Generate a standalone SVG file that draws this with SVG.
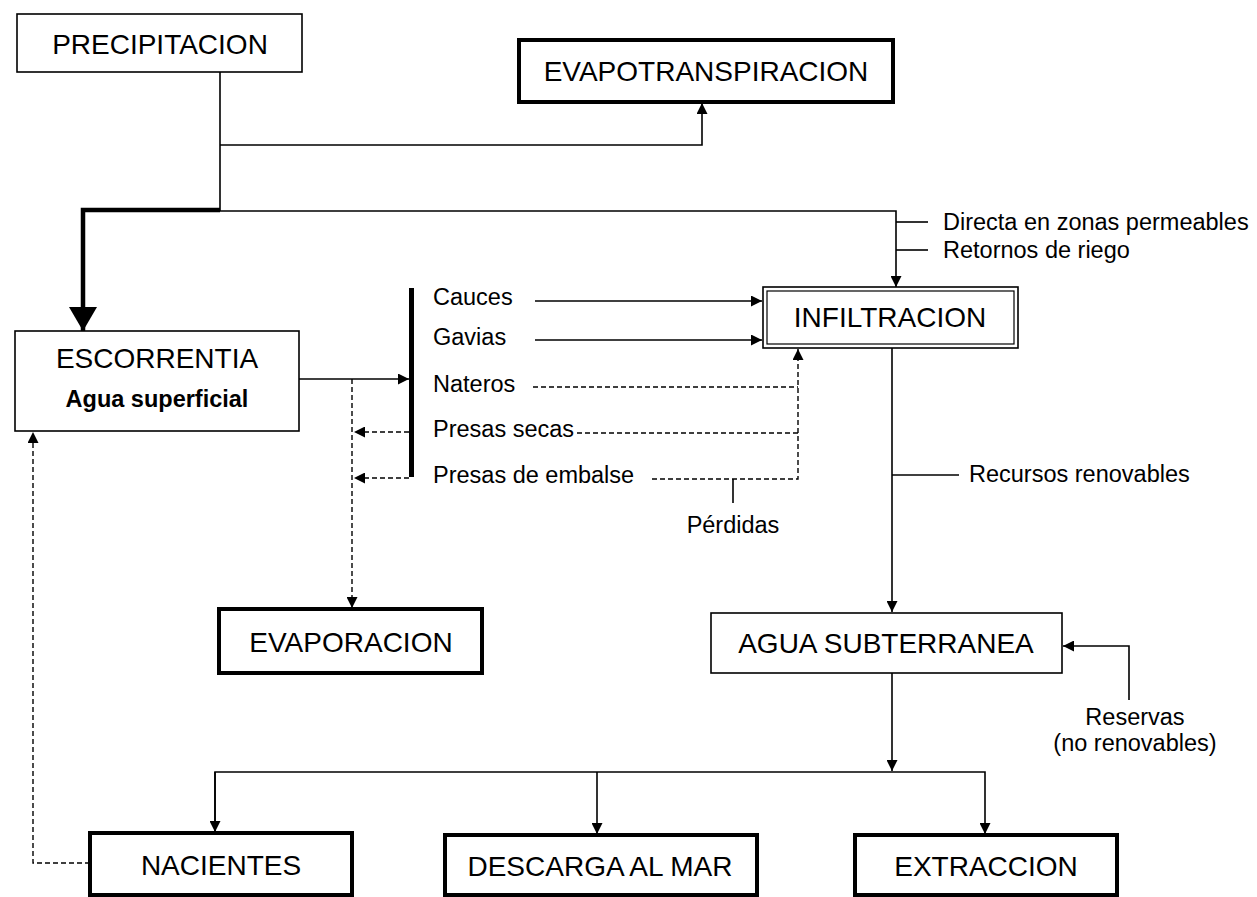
<svg xmlns="http://www.w3.org/2000/svg" width="1257" height="897" viewBox="0 0 1257 897">
<style>
.box{fill:#fff;stroke:#000;stroke-width:1.6}
.thick{fill:#fff;stroke:#000;stroke-width:4}
.ln{fill:none;stroke:#000;stroke-width:1.6}
.ds{fill:none;stroke:#000;stroke-width:1.4;stroke-dasharray:5 3}
.t{font-family:"Liberation Sans",Arial,sans-serif;font-size:28px;fill:#000;text-anchor:middle}
.l{font-family:"Liberation Sans",Arial,sans-serif;font-size:23.5px;fill:#000}
</style>
<defs>
<marker id="a" viewBox="0 0 10 10" refX="10" refY="5" markerWidth="11" markerHeight="11" markerUnits="userSpaceOnUse" orient="auto"><path d="M0,0 L10,5 L0,10 z" fill="#000"/></marker>
<marker id="big" viewBox="0 0 24 28" refX="24" refY="14" markerWidth="24" markerHeight="28" markerUnits="userSpaceOnUse" orient="auto"><path d="M0,0 L24,14 L0,28 z" fill="#000"/></marker>
</defs>
<g id="connectors">
<polyline class="ln" points="220,72 220,211 896,211 896,287" marker-end="url(#a)"/>
<polyline class="ln" points="220,145 702,145 702,103" marker-end="url(#a)"/>
<polyline fill="none" stroke="#000" stroke-width="4.5" points="220,210 83,210 83,331" marker-end="url(#big)"/>
<line class="ln" x1="896" y1="222" x2="928" y2="222"/>
<line class="ln" x1="896" y1="250" x2="928" y2="250"/>
<line class="ln" x1="299" y1="379" x2="409" y2="379" marker-end="url(#a)"/>
<rect x="409" y="288" width="5" height="189" fill="#000"/>
<polyline class="ds" points="352,379 352,608" marker-end="url(#a)"/>
<line class="ds" x1="409" y1="432" x2="354" y2="432" marker-end="url(#a)"/>
<line class="ds" x1="409" y1="478" x2="354" y2="478" marker-end="url(#a)"/>
<line class="ln" x1="535" y1="301" x2="762" y2="301" marker-end="url(#a)"/>
<line class="ln" x1="535" y1="340" x2="762" y2="340" marker-end="url(#a)"/>
<line class="ds" x1="533" y1="387" x2="798" y2="387"/>
<line class="ds" x1="577" y1="433" x2="798" y2="433"/>
<polyline class="ds" points="652,479 798,479 798,349" marker-end="url(#a)"/>
<line class="ln" x1="733" y1="479" x2="733" y2="503"/>
<line class="ln" x1="892" y1="348" x2="892" y2="612" marker-end="url(#a)"/>
<line class="ln" x1="892" y1="475" x2="959" y2="475"/>
<polyline class="ln" points="1129,700 1129,646 1063,646" marker-end="url(#a)"/>
<line class="ln" x1="892" y1="673" x2="892" y2="771" marker-end="url(#a)"/>
<polyline class="ln" points="215,832 215,772 985,772 985,834" marker-end="url(#a)"/>
<line class="ln" x1="215" y1="772" x2="215" y2="832" marker-end="url(#a)"/>
<line class="ln" x1="597" y1="772" x2="597" y2="834" marker-end="url(#a)"/>
<polyline class="ds" points="90,863 33,863 33,432" marker-end="url(#a)"/>
</g>
<g id="precipitacion"><rect class="box" x="17" y="14" width="285" height="58"/><text class="t" x="160" y="54">PRECIPITACION</text></g>
<g id="evapotranspiracion"><rect class="thick" x="519" y="40" width="374" height="62"/><text class="t" x="706" y="81">EVAPOTRANSPIRACION</text></g>
<g id="labels-top"><text class="l" x="943" y="230">Directa en zonas permeables</text><text class="l" x="943" y="258">Retornos de riego</text></g>
<g id="escorrentia"><rect class="box" x="15" y="331" width="284" height="100"/><text class="t" x="157" y="368">ESCORRENTIA</text><text class="l" x="157" y="407" text-anchor="middle" font-weight="bold" font-size="22">Agua superficial</text></g>
<g id="infiltracion"><rect class="box" x="763" y="287" width="255" height="61"/><rect fill="none" stroke="#000" stroke-width="1.2" x="767" y="291" width="247" height="53"/><text class="t" x="890" y="327">INFILTRACION</text></g>
<g id="obras">
<text class="l" x="433" y="305">Cauces</text>
<text class="l" x="433" y="345">Gavias</text>
<text class="l" x="433" y="392">Nateros</text>
<text class="l" x="433" y="437">Presas secas</text>
<text class="l" x="433" y="483">Presas de embalse</text>
<text class="l" x="733" y="533" text-anchor="middle">Pérdidas</text>
<text class="l" x="969" y="482">Recursos renovables</text>
</g>
<g id="evaporacion"><rect class="thick" x="219" y="609" width="263" height="64"/><text class="t" x="351" y="652">EVAPORACION</text></g>
<g id="agua-subterranea"><rect class="box" x="711" y="613" width="351" height="60"/><text class="t" x="886" y="653">AGUA SUBTERRANEA</text></g>
<g id="reservas"><text class="l" x="1135" y="725" text-anchor="middle">Reservas</text><text class="l" x="1135" y="751" text-anchor="middle">(no renovables)</text></g>
<g id="nacientes"><rect class="thick" x="90" y="833" width="262" height="62"/><text class="t" x="221" y="875">NACIENTES</text></g>
<g id="descarga"><rect class="thick" x="445" y="835" width="312" height="60"/><text class="t" x="600" y="876">DESCARGA AL MAR</text></g>
<g id="extraccion"><rect class="thick" x="855" y="835" width="262" height="60"/><text class="t" x="986" y="876">EXTRACCION</text></g>
</svg>
